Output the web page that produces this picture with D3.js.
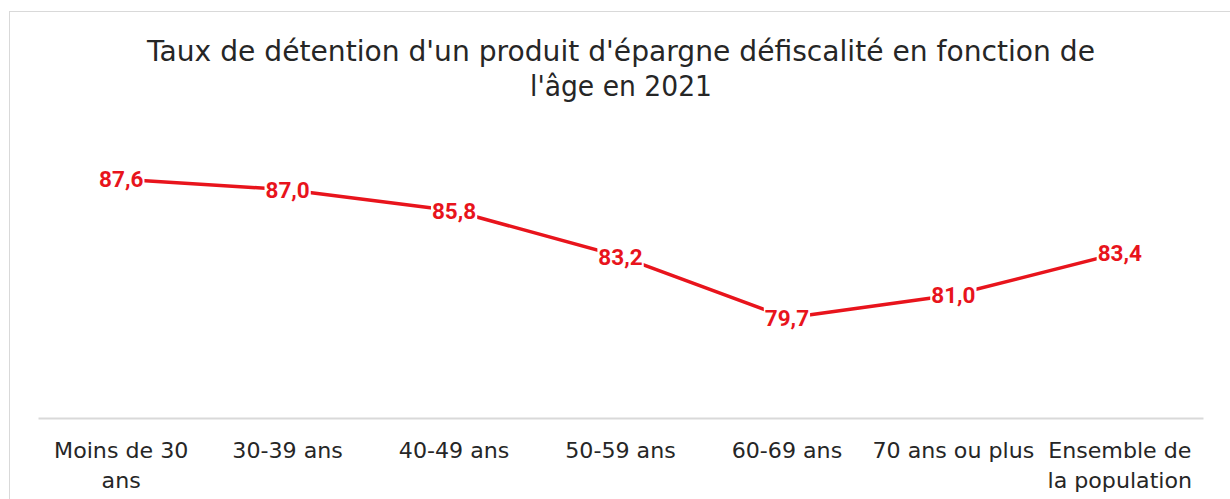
<!DOCTYPE html>
<html>
<head>
<meta charset="utf-8">
<script src="https://cdn.jsdelivr.net/npm/d3@7"></script>
<style>
  body { margin: 0; background: #fff; }
  svg { display: block; }
</style>
</head>
<body>
<svg width="1230" height="499"></svg>
<script>
const categories = [
  ['Moins de 30', 'ans'],
  ['30-39 ans'],
  ['40-49 ans'],
  ['50-59 ans'],
  ['60-69 ans'],
  ['70 ans ou plus'],
  ['Ensemble de', 'la population']
];
const values = [87.6, 87.0, 85.8, 83.2, 79.7, 81.0, 83.4];
const titleLines = ["Taux de détention d'un produit d'épargne défiscalité en fonction de", "l'âge en 2021"];

const svg = d3.select('svg');
const red = '#e8141c';
const font = '"DejaVu Sans", sans-serif';

// chart border
svg.append('rect')
  .attr('x', 9.5).attr('y', 11.5)
  .attr('width', 1240).attr('height', 500)
  .attr('fill', 'none')
  .attr('stroke', '#d9d9d9');

// title
const title = svg.append('text')
  .attr('text-anchor', 'middle')
  .attr('font-family', font)
  .attr('font-size', 28)
  .attr('fill', '#262626');
title.selectAll('tspan').data(titleLines).enter().append('tspan')
  .attr('x', 621)
  .attr('y', (d, i) => 61 + i * 35)
  .attr('textLength', (d, i) => i === 0 ? 948 : 182)
  .attr('lengthAdjust', 'spacingAndGlyphs')
  .text(d => d);

const x = d3.scaleBand()
  .domain(d3.range(categories.length))
  .range([38, 1203]);

const y = d3.scaleLinear()
  .domain([74, 90])
  .range([418, 137]);

// category axis
const axis = svg.append('g')
  .attr('transform', 'translate(0,418)')
  .call(d3.axisBottom(x).tickSize(0).tickFormat(''));
axis.select('.domain').attr('stroke', '#d9d9d9').attr('stroke-width', 2);

const lab = svg.append('g')
  .attr('font-family', font)
  .attr('font-size', 20.5)
  .attr('fill', '#262626')
  .attr('text-anchor', 'middle');
categories.forEach((c, i) => {
  const t = lab.append('text');
  c.forEach((line, j) => {
    const s = t.append('tspan')
      .attr('x', x(i) + x.bandwidth() / 2)
      .attr('y', 458 + j * 30)
      .text(line);
    // stretch slightly to the wider original face
    s.attr('textLength', s.node().getComputedTextLength() * 1.08)
      .attr('lengthAdjust', 'spacingAndGlyphs');
  });
});

// line
const line = d3.line()
  .x((d, i) => x(i) + x.bandwidth() / 2)
  .y(d => y(d));

svg.append('path')
  .datum(values)
  .attr('d', line)
  .attr('fill', 'none')
  .attr('stroke', red)
  .attr('stroke-width', 3.5)
  .attr('stroke-linejoin', 'round');

// data labels with white background
const fmt = v => d3.format('.1f')(v).replace('.', ',');
const labels = svg.append('g');
values.forEach((v, i) => {
  const g = labels.append('g');
  const t = g.append('text')
    .attr('x', x(i) + x.bandwidth() / 2)
    .attr('y', y(v))
    .attr('dy', '0.36em')
    .attr('text-anchor', 'middle')
    .attr('font-family', 'Roboto, sans-serif')
    .attr('font-weight', 'bold')
    .attr('font-size', 22.5)
    .attr('fill', red)
    .text(fmt(v));
  const b = t.node().getBBox();
  g.insert('rect', 'text')
    .attr('x', b.x - 1).attr('y', b.y + 2)
    .attr('width', b.width + 2).attr('height', b.height - 4)
    .attr('fill', '#fff');
});
</script>
</body>
</html>
